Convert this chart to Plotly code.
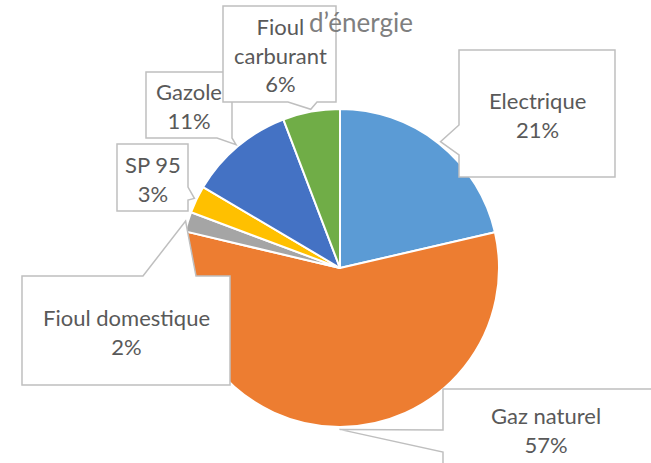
import math
import plotly.graph_objects as go

# ---- data ----
categories = ["Electrique", "Gaz naturel", "Fioul domestique", "SP 95", "Gazole", "Fioul carburant"]
display_names = ["Electrique", "Gaz naturel", "Fioul domestique", "SP 95", "Gazole", "Fioul<br>carburant"]
values = [21.4, 57.3, 2.0, 2.8, 10.7, 5.8]
colors = ["#5B9BD5", "#ED7D31", "#A5A5A5", "#FFC000", "#4472C4", "#70AD47"]
title_text = "d’énergie"

# ---- layout geometry (pixels) ----
W, H = 651, 463
CX, CY, R = 340, 268, 159

# callout boxes: x0, y0, x1, y1, side of pointer, base start, base end
boxes = [
    (459, 50, 615, 177, "left", 125, 155),
    (443, 389, 670, 500, "left", 430, 452),
    (22, 276, 230, 385, "top", 143, 196),
    (117, 144, 188, 211, "right", 187, 200),
    (146, 72, 232, 138, "bottom", 217, 232),
    (223, 6, 336, 102, "bottom", 288, 317),
]
text_centers = [(537, 115), (546, 430), (126, 332), (153, 179), (189, 106), (280, 55)]


def px(x):
    return x / W


def py(y):
    return 1 - y / H


fig = go.Figure()
fig.add_trace(go.Pie(
    labels=categories,
    values=values,
    sort=False,
    direction="clockwise",
    rotation=0,
    textinfo="none",
    hoverinfo="label+percent",
    marker=dict(colors=colors, line=dict(color="white", width=2)),
    domain=dict(x=[(CX - R) / W, (CX + R) / W], y=[(H - CY - R) / H, (H - CY + R) / H]),
    showlegend=False,
))

total = sum(values)
cum = 0.0
shapes = []
annotations = []
for name, disp, v, box, tc in zip(categories, display_names, values, boxes, text_centers):
    mid = (cum + v / 2) / total * 2 * math.pi
    cum += v
    rt = R * 1.015
    tx = CX + rt * math.sin(mid)
    ty = CY - rt * math.cos(mid)
    x0, y0, x1, y1, side, a, b = box
    pts = [(x0, y0)]
    if side == "top":
        pts += [(a, y0), (tx, ty), (b, y0)]
    pts.append((x1, y0))
    if side == "right":
        pts += [(x1, a), (tx, ty), (x1, b)]
    pts.append((x1, y1))
    if side == "bottom":
        pts += [(b, y1), (tx, ty), (a, y1)]
    pts.append((x0, y1))
    if side == "left":
        pts += [(x0, b), (tx, ty), (x0, a)]
    path = "M " + " L ".join(f"{px(x):.5f},{py(y):.5f}" for x, y in pts) + " Z"
    shapes.append(dict(type="path", path=path, xref="paper", yref="paper",
                       line=dict(color="#BFBFBF", width=1.5), fillcolor="white", layer="above"))
    pct = round(v / total * 100)
    annotations.append(dict(
        x=px(tc[0]), y=py(tc[1]), xref="paper", yref="paper",
        xanchor="center", yanchor="middle", showarrow=False, align="center",
        text=f"{disp}<br>{pct}%",
        font=dict(family="Lato", size=22, color="#595959"),
    ))

annotations.append(dict(
    x=px(361), y=py(22), xref="paper", yref="paper", xanchor="center", yanchor="middle",
    showarrow=False, text=title_text,
    font=dict(family="Lato", size=26, color="#7F7F7F"),
))

fig.update_layout(
    width=W, height=H,
    margin=dict(l=0, r=0, t=0, b=0),
    paper_bgcolor="white", plot_bgcolor="white",
    shapes=shapes, annotations=annotations,
)

fig.write_html("out.html", config={"displayModeBar": False},
               post_script="document.body.style.margin='0';")
